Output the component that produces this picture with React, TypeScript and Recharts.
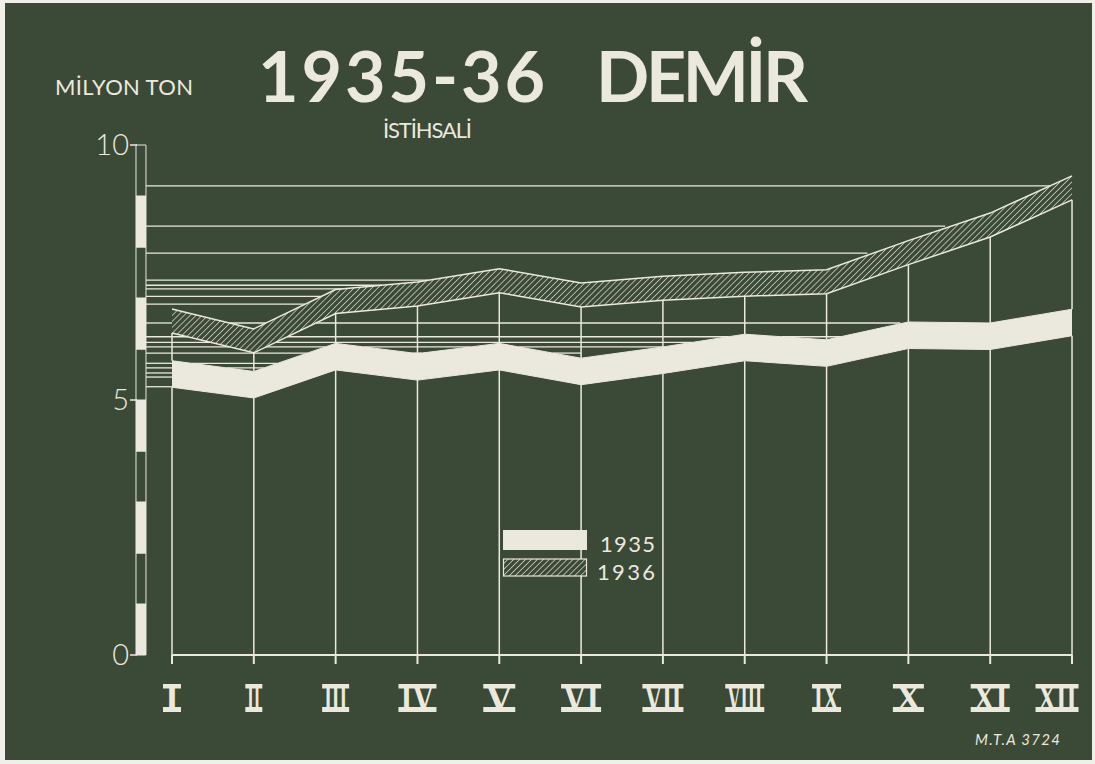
import React from 'react';
import { ComposedChart, Area, XAxis, YAxis, ReferenceLine, ReferenceArea, Legend } from 'recharts';

// ---- data (million tons) ----
const months = ['I', 'II', 'III', 'IV', 'V', 'VI', 'VII', 'VIII', 'IX', 'X', 'XI', 'XII'];
const iron1935 = [5.51, 5.3, 5.85, 5.65, 5.85, 5.56, 5.78, 6.03, 5.92, 6.27, 6.25, 6.52];
const iron1936 = [6.55, 6.16, 6.93, 7.08, 7.34, 7.06, 7.19, 7.27, 7.32, 7.89, 8.43, 9.16];
const yTickLabels = [0, 5, 10];
const guideLevels = [9.2, 8.41, 7.88, 7.35, 7.25, 7.18, 7.03, 6.88, 6.51, 6.24, 6.13, 6.04, 5.92, 5.72, 5.63, 5.53, 5.45, 5.26];
const guideEnds = [10.9, 9.45, 8.5, 3.3, 3.0, 2.9, 2.0, 1.8, 8.9, 8.2, 7.0, 6.3, 5.0, 2.0, 1.5, 1.0, 0.8, 0.5];
const seriesNames = ['1935', '1936'];

// ---- styles ----
const GREEN = '#3b4937';
const CREAM = '#ebe8de';
const HALF35 = 0.26;
const HALF36 = 0.235;
const BAR_X1 = -0.44;
const BAR_X2 = -0.318;
const labelWidths: Record<string, number> = { I: 18, II: 17, III: 27, IV: 38, V: 32, VI: 40, VII: 41, VIII: 39, IX: 29, X: 31, XI: 39, XII: 43 };

const lo35 = iron1935.map((v) => v - HALF35);
const hi35 = iron1935.map((v) => v + HALF35);
const lo36 = iron1936.map((v) => v - HALF36);
const hi36 = iron1936.map((v) => v + HALF36);

const data = months.map((m, i) => ({
  idx: i,
  month: m,
  band1935: [lo35[i], hi35[i]],
  band1936: [lo36[i], hi36[i]],
}));

// parts of a horizontal guide at level v that are not covered by a band
function visibleSegments(v: number, start: number, end: number): [number, number][] {
  const inside: [number, number][] = [];
  const bands = [[lo35, hi35], [lo36, hi36]];
  for (const [lo, hi] of bands) {
    for (let i = 0; i < lo.length - 1; i++) {
      let ta = 0;
      let tb = 1;
      const dl = lo[i + 1] - lo[i];
      if (dl === 0) { if (!(lo[i] < v)) { ta = 1; tb = 0; } }
      else { const t = (v - lo[i]) / dl; if (dl > 0) tb = Math.min(tb, t); else ta = Math.max(ta, t); }
      const dh = hi[i + 1] - hi[i];
      if (dh === 0) { if (!(hi[i] > v)) { ta = 1; tb = 0; } }
      else { const t = (v - hi[i]) / dh; if (dh > 0) ta = Math.max(ta, t); else tb = Math.min(tb, t); }
      if (ta < tb) inside.push([i + ta, i + tb]);
    }
  }
  inside.sort((a, b) => a[0] - b[0]);
  const out: [number, number][] = [];
  let cur = start;
  for (const [a, b] of inside) {
    if (b <= cur) continue;
    if (a >= end) break;
    if (a > cur) out.push([cur, Math.min(a, end)]);
    cur = Math.max(cur, b);
    if (cur >= end) break;
  }
  if (cur < end) out.push([cur, end]);
  return out;
}

const RomanTick = (props: any) => {
  const { x, y, payload } = props;
  const label = months[payload.value];
  if (!label) return null;
  const w = labelWidths[label] || 30;
  const cx = x + (payload.value === 11 ? -15 : 0);
  const top = y + 18;
  return (
    <g>
      <rect x={cx - w / 2} y={top} width={w} height={4.5} fill={CREAM} />
      <rect x={cx - w / 2} y={top + 23} width={w} height={5} fill={CREAM} />
      <text
        transform={`translate(${cx},${top + 27}) scale(1,1.45)`}
        x={0}
        y={0}
        textAnchor="middle"
        fontFamily="Liberation Serif"
        fontWeight="bold"
        fontSize={28}
        fill={CREAM}
        textLength={Math.max(w - 4, 6)}
        lengthAdjust="spacingAndGlyphs"
      >
        {label}
      </text>
    </g>
  );
};

const YTick = (props: any) => {
  const { y, payload } = props;
  return (
    <g>
      <line x1={130} x2={137} y1={y} y2={y} stroke={CREAM} strokeWidth={1.5} />
      <text x={129} y={y + 10} textAnchor="end" fontFamily="Lato" fontWeight={300} fontSize={29} fill={CREAM}>
        {payload.value}
      </text>
    </g>
  );
};

const LegendContent = () => (
  <svg width={180} height={62} style={{ display: 'block' }}>
    <defs>
      <pattern id="hatchLegend" patternUnits="userSpaceOnUse" width={4.2} height={4.2} patternTransform="rotate(45)">
        <rect width={4.2} height={4.2} fill={GREEN} />
        <line x1={0} y1={0} x2={0} y2={4.2} stroke={CREAM} strokeWidth={1.3} />
      </pattern>
    </defs>
    <rect x={3} y={5} width={84} height={20} fill={CREAM} />
    <rect x={3.5} y={34} width={83} height={17} fill="url(#hatchLegend)" stroke={CREAM} strokeWidth={1.2} />
    <text x={100} y={27} fontFamily="Lato" fontSize={22} fill={CREAM} textLength={55}>{seriesNames[0]}</text>
    <text x={97} y={55} fontFamily="Lato" fontSize={22} fill={CREAM} textLength={58}>{seriesNames[1]}</text>
  </svg>
);

export default function App() {
  const segs = Array.from({ length: 10 }, (_, v) => v);
  const guideSegs: { v: number; a: number; b: number }[] = [];
  guideLevels.forEach((v, k) => {
    visibleSegments(v, BAR_X2, guideEnds[k]).forEach(([a, b]) => guideSegs.push({ v, a, b }));
  });
  return (
    <div style={{ position: 'absolute', left: 0, top: 0, width: 1095, height: 764, background: '#f0efe9', overflow: 'hidden' }}>
      <div style={{ position: 'absolute', left: 5, top: 3, width: 1087, height: 757, background: GREEN }} />
      <div style={{ position: 'absolute', left: 0, top: 0 }}>
        <ComposedChart width={1095} height={764} data={data} margin={{ top: 145, right: 10.7, bottom: 49, left: 82.9 }}>
          <defs>
            <pattern id="hatch36" patternUnits="userSpaceOnUse" width={4.2} height={4.2} patternTransform="rotate(45)">
              <rect width={4.2} height={4.2} fill={GREEN} />
              <line x1={0} y1={0} x2={0} y2={4.2} stroke={CREAM} strokeWidth={1.3} />
            </pattern>
          </defs>
          <XAxis
            dataKey="idx"
            type="number"
            domain={[-0.6, 11.15]}
            ticks={months.map((_, i) => i)}
            allowDataOverflow
            axisLine={false}
            tickLine={{ stroke: CREAM, strokeWidth: 2 }}
            tickSize={9}
            tickMargin={2}
            height={60}
            tick={<RomanTick />}
            interval={0}
          />
          <YAxis
            type="number"
            domain={[0, 10]}
            ticks={yTickLabels}
            width={40}
            axisLine={false}
            tickLine={false}
            tick={<YTick />}
            interval={0}
            allowDataOverflow
          />
          {guideSegs.map((s, k) => (
            <ReferenceLine
              key={'g' + k}
              segment={[{ x: s.a, y: s.v }, { x: s.b, y: s.v }]}
              stroke={CREAM}
              strokeWidth={1.3}
              zIndex={50}
            />
          ))}
          {months.map((m, i) => (
            <ReferenceLine
              key={'va' + m}
              segment={[{ x: i, y: 0 }, { x: i, y: lo35[i] }]}
              stroke={CREAM}
              strokeWidth={1.5}
              zIndex={50}
            />
          ))}
          {months.map((m, i) => (
            <ReferenceLine
              key={'vb' + m}
              segment={[{ x: i, y: hi35[i] }, { x: i, y: lo36[i] }]}
              stroke={CREAM}
              strokeWidth={1.5}
              zIndex={50}
            />
          ))}
          <ReferenceLine segment={[{ x: 0, y: 0 }, { x: 11, y: 0 }]} stroke={CREAM} strokeWidth={2} zIndex={50} />
          {segs.map((v) => (
            <ReferenceArea
              key={'s' + v}
              x1={BAR_X1}
              x2={BAR_X2}
              y1={v}
              y2={v + 1}
              fill={v % 2 === 0 ? CREAM : GREEN}
              fillOpacity={1}
              stroke={CREAM}
              strokeWidth={1}
              strokeOpacity={1}
            />
          ))}
          <Area
            type="linear"
            dataKey="band1935"
            name={seriesNames[0]}
            fill={CREAM}
            fillOpacity={1}
            stroke={CREAM}
            strokeWidth={1}
            dot={false}
            activeDot={false}
            isAnimationActive={false}
          />
          <Area
            type="linear"
            dataKey="band1936"
            name={seriesNames[1]}
            fill="url(#hatch36)"
            fillOpacity={1}
            stroke={CREAM}
            strokeWidth={1.5}
            dot={false}
            activeDot={false}
            isAnimationActive={false}
          />
          <Legend
            layout="vertical"
            align="center"
            verticalAlign="middle"
            content={<LegendContent />}
            wrapperStyle={{ left: 500, top: 525, width: 180, height: 62 }}
          />
        </ComposedChart>
      </div>
      <svg width={1095} height={764} style={{ position: 'absolute', left: 0, top: 0, pointerEvents: 'none' }}>
        <text x={55} y={95} fontFamily="Lato" fontSize={22} fill={CREAM} textLength={138}>MİLYON TON</text>
        <text x={258} y={102} fontFamily="Lato" fontWeight="bold" fontSize={70} fill={CREAM} textLength={287}>1935-36</text>
        <text x={596} y={102} fontFamily="Lato" fontWeight="bold" fontSize={70} fill={CREAM} textLength={212}>DEMİR</text>
        <text x={383} y={138} fontFamily="Lato" fontSize={22} fill={CREAM} textLength={89}>İSTİHSALİ</text>
        <text x={975} y={745} fontFamily="Lato" fontStyle="italic" fontSize={15} fill={CREAM} textLength={85}>M.T.A 3724</text>
      </svg>
    </div>
  );
}
